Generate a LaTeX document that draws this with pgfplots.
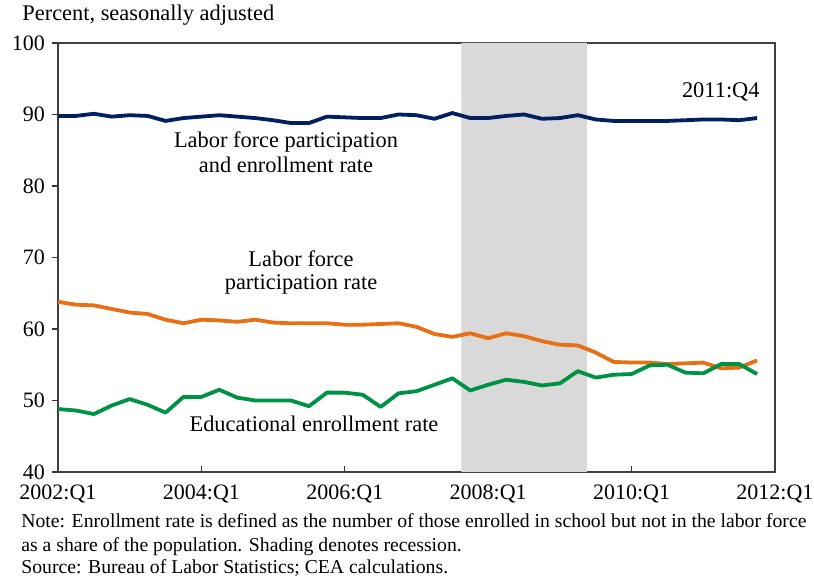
\documentclass[border=0pt]{standalone}
\usepackage{fontspec}
\setmainfont{Liberation Serif}
\usepackage{pgfplots}
\usepackage{pgfplotstable}
\pgfplotsset{compat=1.18}

\definecolor{lfnavy}{RGB}{0,32,96}
\definecolor{lforange}{RGB}{232,112,20}
\definecolor{lfgreen}{RGB}{0,146,68}
\definecolor{recess}{RGB}{217,217,217}

% quarter index: 0 = 2002:Q1 ... 39 = 2011:Q4
\pgfplotstableread{
q  lfpe  lfp   edu
0  89.8  63.8  48.8
1  89.8  63.4  48.6
2  90.1  63.3  48.1
3  89.7  62.8  49.3
4  89.9  62.3  50.2
5  89.8  62.1  49.4
6  89.1  61.3  48.3
7  89.5  60.8  50.5
8  89.7  61.3  50.5
9  89.9  61.2  51.5
10 89.7  61.0  50.4
11 89.5  61.3  50.0
12 89.2  60.9  50.0
13 88.8  60.8  50.0
14 88.8  60.8  49.2
15 89.7  60.8  51.1
16 89.6  60.6  51.1
17 89.5  60.6  50.8
18 89.5  60.7  49.1
19 90.0  60.8  51.0
20 89.9  60.3  51.3
21 89.4  59.3  52.2
22 90.2  58.9  53.1
23 89.5  59.4  51.4
24 89.5  58.7  52.2
25 89.8  59.4  52.9
26 90.0  59.0  52.6
27 89.4  58.3  52.1
28 89.5  57.8  52.4
29 89.9  57.7  54.1
30 89.3  56.7  53.2
31 89.1  55.4  53.6
32 89.1  55.3  53.7
33 89.1  55.3  54.9
34 89.1  55.1  55.0
35 89.2  55.2  53.9
36 89.3  55.3  53.8
37 89.3  54.5  55.1
38 89.2  54.6  55.1
39 89.5  55.6  53.7
}\rates

\begin{document}
\begin{tikzpicture}
\begin{axis}[
    at={(0,0)}, anchor=south west,
    scale only axis,
    width=358.5pt, height=214.5pt,
    xmin=0, xmax=40, ymin=40, ymax=100,
    xtick={0,8,...,40},
    xticklabels={2002:Q1,2004:Q1,2006:Q1,2008:Q1,2010:Q1,2012:Q1},
    ytick={40,50,...,100},
    xtick pos=bottom, ytick pos=left,
    tick align=outside,
    major tick length=3pt,
    x tick style={yshift=3pt},
    tick style={black!80, line width=0.6pt},
    axis line style={black!75, line width=0.6pt},
    tick label style={font=\fontsize{11}{13}\selectfont},
    /pgf/number format/assume math mode=true,
    clip=false,
]
\addplot[fill=recess, draw=none] coordinates {(22.5,40) (22.5,100) (29.5,100) (29.5,40)} \closedcycle;
\addplot[lfnavy, line width=1.9pt, line join=round] table[x=q, y=lfpe] {\rates};
\addplot[lforange, line width=1.9pt, line join=round] table[x=q, y=lfp] {\rates};
\addplot[lfgreen, line width=1.9pt, line join=round] table[x=q, y=edu] {\rates};
\end{axis}

\begin{scope}[every node/.style={inner sep=0pt, font=\fontsize{11.2}{13}\selectfont}]
\node[anchor=base east] at (351pt,187pt) {2011:Q4};
\node[anchor=base] at (114pt,162pt) {Labor force participation};
\node[anchor=base] at (114pt,149.5pt) {and enrollment rate};
\node[anchor=base] at (121.5pt,102.5pt) {Labor force};
\node[anchor=base] at (121.5pt,91pt) {participation rate};
\node[anchor=base] at (128pt,20pt) {Educational enrollment rate};
\node[anchor=base west] at (-18pt,225.5pt) {Percent, seasonally adjusted};
\end{scope}
\begin{scope}[every node/.style={inner sep=0pt, anchor=base west, font=\fontsize{9.85}{11}\selectfont}]
\node at (-18.5pt,-28pt) {Note: Enrollment rate is defined as the number of those enrolled in school but not in the labor force};
\node at (-18.5pt,-40pt) {as a share of the population. Shading denotes recession.};
\node at (-18.5pt,-51pt) {Source: Bureau of Labor Statistics; CEA calculations.};
\end{scope}

\pgfresetboundingbox
\path (-29pt,-54.5pt) rectangle (378pt,236pt);
\end{tikzpicture}
\end{document}
